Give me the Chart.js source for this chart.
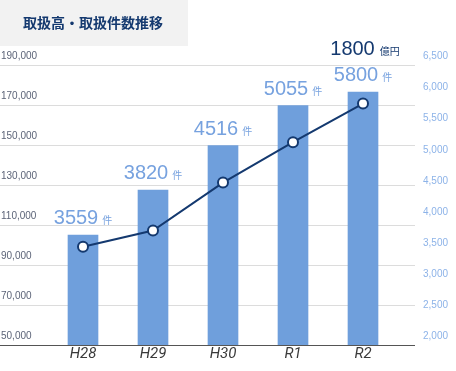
<!DOCTYPE html>
<html>
<head>
<meta charset="utf-8">
<script src="https://cdn.jsdelivr.net/npm/chart.js@4"></script>
<style>
    html, body { margin: 0; padding: 0; background: #fff; }
    #wrap { width: 456px; height: 371px; }
</style>
</head>
<body>
<div id="wrap"><canvas id="salesChart" width="456" height="371"></canvas></div>
<script>
// chart data
const categories = ['H28', 'H29', 'H30', 'R1', 'R2'];
const amountValues = [105000, 127500, 149700, 169700, 176500];   // bars, left axis
const countValues = [3580, 3840, 4610, 5260, 5880];              // line, right axis
const countLabels = ['3559', '3820', '4516', '5055', '5800'];
const leftTicks = [50000, 70000, 90000, 110000, 130000, 150000, 170000, 190000];
const rightTicks = [2000, 2500, 3000, 3500, 4000, 4500, 5000, 5500, 6000, 6500];
const titleText = '取扱高・取扱件数推移';
const totalText = '1800';
const totalUnit = '億円';
const countUnit = '件';

const NAVY = '#14396f';
const BAR = '#6f9fdc';
const LIGHT = '#77a2df';
const NUM_FONT = "20px 'Liberation Sans', Arial, sans-serif";
const UNIT_FONT = "10px 'Noto Sans CJK JP', sans-serif";

document.addEventListener('DOMContentLoaded', function () {
    const canvas = document.getElementById('salesChart');
    if (!canvas) {
        console.error('Canvas element not found');
        return;
    }
    const ctx = canvas.getContext('2d');

    const fmt = v => v.toLocaleString('en-US');

    // grid, tick labels and title drawn from the scales
    const decorations = {
        id: 'decorations',
        beforeDraw(chart) {
            const c = chart.ctx;
            c.save();
            c.fillStyle = '#f2f2f2';
            c.fillRect(0, 0, 188, 46);
            c.fillStyle = NAVY;
            c.font = "bold 14px 'Noto Sans CJK JP', sans-serif";
            c.textBaseline = 'middle';
            c.textAlign = 'left';
            c.fillText(titleText, 23, 23);
            c.restore();
        },
        beforeDatasetsDraw(chart) {
            const c = chart.ctx;
            const yL = chart.scales.yLeft;
            const yR = chart.scales.yRight;
            c.save();
            yL.ticks.forEach(t => {
                const y = Math.round(yL.getPixelForValue(t.value)) + 0.5;
                c.strokeStyle = t.value === yL.min ? '#555' : '#dcdcdc';
                c.lineWidth = 1;
                c.beginPath();
                c.moveTo(0, y);
                c.lineTo(415, y);
                c.stroke();
                c.fillStyle = '#5c6478';
                c.font = "10px 'Liberation Sans', Arial, sans-serif";
                c.textAlign = 'left';
                c.textBaseline = 'middle';
                c.fillText(fmt(t.value), 1, y - 9);
            });
            yR.ticks.forEach(t => {
                const y = yR.getPixelForValue(t.value);
                c.fillStyle = '#8db3e8';
                c.font = "10px 'Liberation Sans', Arial, sans-serif";
                c.textAlign = 'left';
                c.textBaseline = 'middle';
                c.fillText(fmt(t.value), 423, y - 8.5);
            });
            const x = chart.scales.x;
            c.fillStyle = '#3a3a3a';
            c.font = "italic 15px Roboto, sans-serif";
            c.textAlign = 'center';
            c.textBaseline = 'alphabetic';
            categories.forEach((label, i) => {
                c.fillText(label, x.getPixelForValue(i), 358);
            });
            c.restore();
        },
        afterDatasetsDraw(chart) {
            const c = chart.ctx;
            const bars = chart.getDatasetMeta(1).data;
            c.save();
            c.textBaseline = 'alphabetic';
            c.textAlign = 'left';
            bars.forEach((bar, i) => {
                c.font = NUM_FONT;
                const w1 = c.measureText(countLabels[i]).width;
                c.font = UNIT_FONT;
                const w2 = c.measureText(countUnit).width;
                const total = w1 + 4 + w2;
                const left = bar.x - total / 2;
                const base = bar.y - 11;
                c.fillStyle = LIGHT;
                c.font = NUM_FONT;
                c.fillText(countLabels[i], left, base);
                c.font = UNIT_FONT;
                c.fillText(countUnit, left + w1 + 4, base);
            });
            // total above last bar
            const last = bars[bars.length - 1];
            c.font = NUM_FONT;
            const t1 = c.measureText(totalText).width;
            c.font = UNIT_FONT;
            const t2 = c.measureText(totalUnit).width;
            const tl = last.x + 2 - (t1 + 5 + t2) / 2;
            c.fillStyle = NAVY;
            c.font = NUM_FONT;
            c.fillText(totalText, tl, 55);
            c.font = UNIT_FONT;
            c.fillText(totalUnit, tl + t1 + 5, 55);
            c.restore();
        }
    };

    try {
        if (window.salesChart instanceof Chart) {
            window.salesChart.destroy();
        }
        window.salesChart = new Chart(ctx, {
            type: 'bar',
            data: {
                labels: categories,
                datasets: [
                    {
                        type: 'line',
                        label: '取扱件数',
                        data: countValues,
                        yAxisID: 'yRight',
                        borderColor: NAVY,
                        borderWidth: 2,
                        pointRadius: 5,
                        pointBorderWidth: 2,
                        pointBackgroundColor: '#fff',
                        pointBorderColor: NAVY,
                        tension: 0,
                        order: 0
                    },
                    {
                        type: 'bar',
                        label: '取扱高',
                        data: amountValues,
                        yAxisID: 'yLeft',
                        backgroundColor: BAR,
                        borderWidth: 0,
                        barThickness: 30,
                        order: 1
                    }
                ]
            },
            options: {
                responsive: false,
                animation: false,
                layout: {
                    padding: { left: 48, right: 58, top: 65, bottom: 26 }
                },
                plugins: {
                    legend: { display: false },
                    tooltip: { enabled: false }
                },
                scales: {
                    x: { display: false },
                    yLeft: {
                        display: false,
                        position: 'left',
                        min: 50000,
                        max: 190000,
                        afterBuildTicks: s => { s.ticks = leftTicks.map(v => ({ value: v })); }
                    },
                    yRight: {
                        display: false,
                        position: 'right',
                        min: 2000,
                        max: 6500,
                        afterBuildTicks: s => { s.ticks = rightTicks.map(v => ({ value: v })); }
                    }
                }
            },
            plugins: [decorations]
        });
    } catch (error) {
        console.error('Error creating chart:', error);
    }
});
</script>
</body>
</html>
